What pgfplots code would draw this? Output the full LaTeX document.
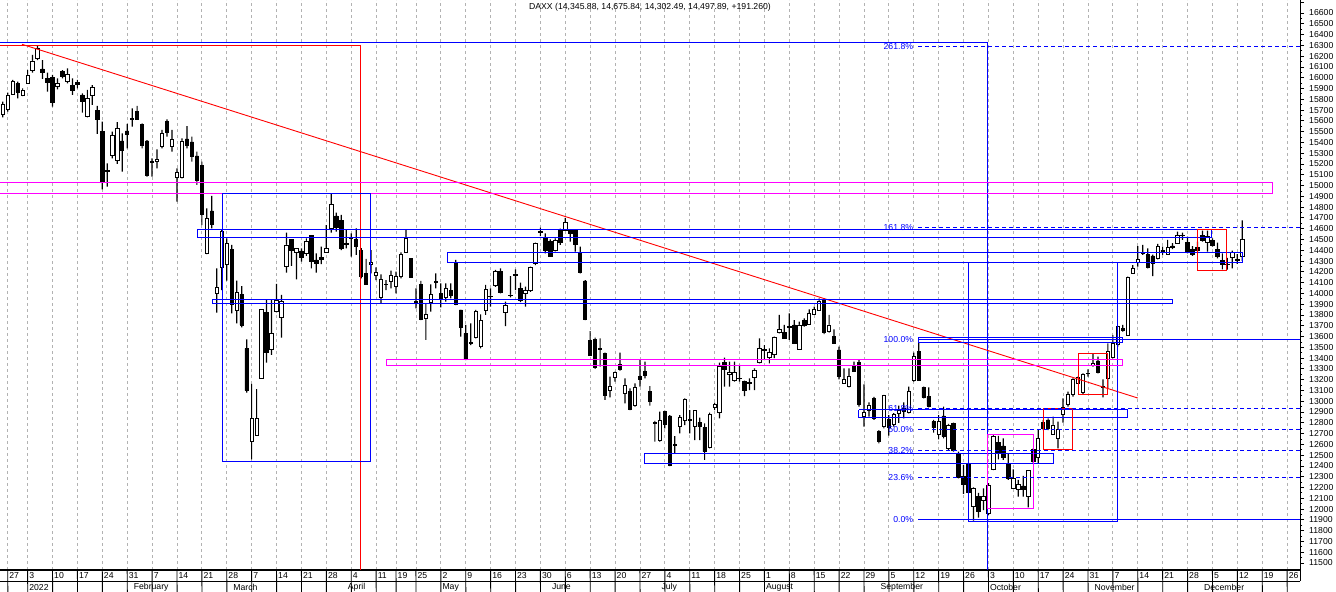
\documentclass[border=0pt]{standalone}
\usepackage{pgfplots}
\pgfplotsset{compat=1.18}
\usepackage{pgfplotstable}
\usepackage{fontspec}
\setmainfont{Liberation Sans}
\newcommand\tf{\fontsize{8.7}{10}\selectfont}
\definecolor{mag}{RGB}{255,0,255}
\definecolor{bl}{RGB}{0,0,255}
\definecolor{rd}{RGB}{255,0,0}

\pgfplotstableread{
i o h l c
-1 15660 15778 15632 15756
0 15706 15861 15685 15840
1 15846 15979 15840 15969
2 15948 15963 15809 15864
3 15836 15900 15830 15886
4 15948 16071 15948 16025
5 16065 16211 16047 16155
6 16180 16303 16164 16272
7 16081 16164 15990 16053
8 15994 16047 15871 15954
9 16003 16025 15731 15769
10 15923 15994 15892 15948
11 16056 16071 15994 16010
12 15963 16087 15948 16031
13 15932 15994 15840 15880
14 15954 15979 15901 15938
15 15840 15855 15676 15778
16 15639 15886 15632 15809
17 15837 15932 15747 15911
18 15694 15738 15478 15614
19 15500 15592 14965 15036
20 15140 15206 14990 15130
21 15277 15500 15252 15463
22 15231 15589 15200 15531
23 15413 15484 15129 15323
24 15506 15571 15345 15472
25 15612 15716 15546 15619
26 15691 15738 15608 15614
27 15568 15577 15345 15370
28 15413 15422 15082 15098
29 15215 15252 15082 15221
30 15227 15336 15160 15246
31 15361 15515 15345 15484
32 15598 15614 15453 15493
33 15367 15515 15314 15428
34 15076 15160 14850 15120
35 15076 15438 15067 15413
36 15432 15552 15345 15376
37 15404 15453 15221 15268
38 15274 15314 15005 15045
39 15190 15221 14634 14733
40 14371 14789 14365 14696
41 14764 14903 14603 14640
42 14000 14232 13821 14056
43 14242 14588 14031 14572
44 14269 14510 14118 14464
45 14408 14449 13815 13902
46 13846 14118 13722 14006
47 13994 14068 13685 13707
48 13490 13574 13080 13098
49 12625 13160 12461 12842
50 12687 13113 12687 12841
51 13212 13852 13212 13852
52 13824 13939 13357 13450
53 13481 13939 13429 13630
54 13830 14087 13824 13939
55 13778 13985 13589 13929
56 14254 14563 14192 14449
57 14501 14501 14254 14402
58 14381 14418 14130 14418
59 14393 14418 14294 14331
60 14371 14510 14347 14486
61 14541 14541 14232 14294
62 14310 14371 14192 14279
63 14334 14433 14272 14316
64 14381 14634 14381 14418
65 14603 14922 14563 14826
66 14718 14748 14572 14609
67 14680 14727 14402 14418
68 14455 14588 14418 14460
69 14510 14557 14340 14520
70 14501 14603 14356 14433
71 14402 14420 14140 14155
72 14186 14319 14078 14084
73 14270 14402 14186 14284
74 14170 14242 14124 14192
75 13963 14177 13902 14130
76 14080 14124 14031 14084
77 14109 14211 14047 14164
78 14068 14201 14000 14155
79 14155 14380 14140 14365
80 14381 14594 14378 14510
81 14325 14325 14146 14146
82 13920 14047 13861 13923
83 14084 14115 13753 13759
84 13768 13908 13568 13805
85 13917 14084 13830 13991
86 14105 14186 14047 14109
87 14000 14093 13871 13948
88 13963 14093 13923 14047
89 14031 14093 13954 13979
90 14279 14310 13892 13902
91 13846 13846 13599 13685
92 13630 13707 13382 13388
93 13540 13722 13521 13549
94 13592 13846 13583 13837
95 13512 13806 13491 13753
96 13840 14078 13800 14038
97 13970 14047 13877 13976
98 14072 14217 14060 14201
99 14201 14232 14000 14010
100 13821 13923 13697 13886
101 13980 14161 13963 13985
102 14170 14223 14031 14180
103 14047 14100 13920 13932
104 14000 14062 13877 14030
105 14025 14248 14015 14238
106 14279 14470 14263 14464
107 14570 14610 14530 14578
108 14520 14557 14371 14396
109 14480 14500 14340 14347
110 14396 14510 14390 14495
111 14588 14600 14450 14470
112 14588 14700 14580 14656
113 14580 14594 14480 14560
114 14588 14594 14387 14458
115 14371 14433 14186 14195
116 14115 14124 13753 13762
117 13561 13651 13420 13429
118 13574 13590 13300 13314
119 13480 13583 13320 13490
120 13444 13450 13012 13052
121 13104 13228 13036 13141
122 13221 13274 13181 13265
123 13345 13450 13284 13296
124 13073 13212 12980 13150
125 13089 13120 12918 12925
126 12959 13166 12950 13129
127 13228 13382 13135 13203
128 13274 13367 13212 13237
129 13089 13141 12959 13002
130 12795 12817 12625 12804
131 12634 12903 12625 12820
132 12903 12912 12748 12786
133 12863 12872 12399 12408
134 12590 12677 12517 12600
135 12770 12872 12702 12850
136 12826 13027 12779 13021
137 12835 12918 12702 12820
138 12764 12918 12640 12912
139 12804 12847 12640 12764
140 12758 12795 12455 12532
141 12569 12894 12563 12881
142 12940 12987 12918 12971
143 12894 13357 12841 13320
144 13357 13404 13135 13299
145 13250 13367 13135 13270
146 13191 13367 13181 13265
147 13215 13336 13181 13212
148 13184 13191 13048 13098
149 13165 13212 13104 13172
150 13221 13305 13104 13290
151 13361 13583 13351 13490
152 13470 13520 13380 13479
153 13410 13490 13350 13449
154 13430 13600 13400 13593
155 13639 13800 13630 13667
156 13639 13707 13577 13583
157 13680 13815 13568 13690
158 13707 13753 13531 13537
159 13484 13738 13475 13707
160 13753 13769 13691 13707
161 13716 13852 13707 13815
162 13806 13877 13800 13852
163 13846 13954 13840 13923
164 13945 13954 13623 13640
165 13645 13800 13636 13707
166 13599 13667 13531 13537
167 13475 13506 13203 13234
168 13166 13305 13160 13203
169 13135 13305 13129 13228
170 13330 13367 13274 13280
171 13358 13382 12949 12974
172 12857 13157 12764 12894
173 12919 12990 12857 12965
174 13027 13040 12826 12841
175 12718 12733 12610 12625
176 12764 13060 12749 13058
177 12832 12870 12680 12761
178 12789 12890 12765 12879
179 12890 12960 12800 12916
180 12930 12990 12840 12904
181 12897 13135 12888 13088
182 13191 13450 13181 13413
183 13460 13543 13191 13197
184 13129 13135 13027 13036
185 13048 13129 12943 12956
186 12810 12826 12709 12755
187 12693 12872 12647 12810
188 12863 12950 12656 12671
189 12563 12789 12548 12780
190 12795 12801 12532 12542
191 12517 12532 12285 12291
192 12300 12410 12140 12228
193 12424 12430 12146 12152
194 12028 12201 11892 12192
195 12120 12150 11920 11976
196 12078 12192 11991 12121
197 11960 12240 11945 12223
198 12368 12687 12360 12678
199 12616 12678 12461 12517
200 12585 12656 12455 12480
201 12418 12511 12270 12285
202 12192 12368 12190 12285
203 12183 12270 12115 12232
204 12214 12307 12115 12183
205 12121 12362 12016 12356
206 12554 12563 12424 12440
207 12480 12733 12418 12656
208 12801 12826 12733 12749
209 12826 12841 12733 12749
210 12693 12857 12687 12780
211 12656 12810 12563 12739
212 12878 13027 12801 12940
213 12971 13089 12950 13064
214 13064 13212 13042 13203
215 13166 13228 13160 13218
216 13079 13259 13067 13249
217 13255 13296 13228 13262
218 13330 13444 13320 13350
219 13373 13413 13259 13265
220 13140 13203 13036 13130
221 13212 13537 13120 13460
222 13407 13614 13398 13537
223 13531 13698 13506 13691
224 13676 13707 13645 13661
225 13614 14155 13605 14149
226 14186 14263 14180 14232
227 14291 14439 14248 14316
228 14370 14449 14356 14381
229 14365 14418 14232 14242
230 14347 14360 14161 14279
231 14325 14458 14316 14433
232 14400 14433 14356 14385
233 14365 14495 14356 14427
234 14440 14465 14410 14428
235 14464 14572 14458 14541
236 14535 14563 14495 14541
237 14473 14526 14371 14387
238 14408 14439 14347 14365
239 14427 14480 14387 14396
240 14541 14582 14480 14495
241 14470 14582 14387 14532
242 14489 14510 14433 14449
243 14408 14470 14325 14347
244 14303 14371 14223 14272
245 14270 14330 14220 14265
246 14334 14396 14232 14378
247 14315 14365 14273 14306
248 14345.88 14675.84 14302.49 14497.89
}\candles

\begin{document}
\begin{tikzpicture}
\pgfplotsset{base/.style={scale only axis, width=1300bp, height=570bp,
  xmin=-1.547, xmax=259.6, ymin=11435, ymax=16720.5, enlargelimits=false,
  at={(0,0)}, anchor=south west}}

% main axis: grid, axes, wicks
\begin{axis}[base, ybar stacked, bar width=1.2bp,
  axis x line*=bottom, axis y line*=right,
  x axis line style={line width=1.6bp, black},
  y axis line style={line width=0.8bp, black},
  xtick={0,4,9,14,19,24,29,34,39,44,49,54,59,64,69,74,78,82,87,92,97,102,107,112,117,122,127,132,137,142,147,152,157,162,167,172,177,182,187,192,197,202,207,212,217,222,227,232,237,242,247,252,257},
  xticklabels={}, xtick style={draw=none},
  xmajorgrids, major grid style={black!30, line width=0.8bp, dash pattern=on 3bp off 3bp},
  ytick={11500,11600,...,16600}, extra y ticks={16700}, extra y tick labels={},
  scaled y ticks=false,
  minor y tick num=1, tick align=outside, major tick length=4bp, minor tick length=2.3bp,
  ytick style={black, line width=0.8bp}, minor y tick style={black, line width=0.8bp},
  yticklabel style={font=\tf, anchor=west, inner sep=0pt, xshift=5bp,
    /pgf/number format/fixed, /pgf/number format/precision=0},
  /pgf/number format/1000 sep={}, /pgf/number format/assume math mode=true]
\addplot [draw=none, fill=none] table [x=i, y=l] {\candles};
\addplot [draw=none, fill=black] table [x=i, y expr=\thisrow{h}-\thisrow{l}] {\candles};
\end{axis}

% candle bodies
\begin{axis}[base, hide axis, ybar stacked, bar width=3.4bp]
\addplot [draw=none, fill=none] table [x=i, y expr={min(\thisrow{o},\thisrow{c})}] {\candles};
\addplot [draw=black, fill=white, line width=0.8bp] table [x=i, y expr={max(\thisrow{c}-\thisrow{o},0)}] {\candles};
\addplot [draw=black, fill=black, line width=0.8bp] table [x=i, y expr={max(\thisrow{o}-\thisrow{c},0)}] {\candles};
\end{axis}

% drawings, labels
\begin{axis}[base, hide axis, clip=false]
\addplot [bl, line width=1bp, mark=none] coordinates {(-1.547,16328) (196.9,16328) (196.9,11435)};
\addplot [rd, line width=1bp, mark=none] coordinates {(-1.547,16300) (70.77,16300) (70.77,11435)};
\addplot [rd, line width=0.9bp, mark=none] coordinates {(2.87,16310) (227.0,13030)};
\addplot [mag, line width=1bp, mark=none] coordinates {(-1.547,15033) (253.98,15033) (253.98,14931) (-1.547,14931)};
\addplot [bl, line width=1bp, mark=none] coordinates {(43.05,14931) (72.78,14931) (72.78,12446) (43.05,12446) (43.05,14931)};
\addplot [bl, line width=1bp, mark=none] coordinates {(38.03,14588) (241.9,14588) (241.9,14523) (38.03,14523) (38.03,14588)};
\addplot [bl, line width=1bp, mark=none] coordinates {(88.25,14375) (247.95,14375) (247.95,14282) (88.25,14282) (88.25,14375)};
\addplot [bl, line width=1bp, mark=none] coordinates {(193.1,14290) (223.0,14290) (223.0,11889) (193.1,11889) (193.1,14290)};
\addplot [bl, line width=1bp, mark=none] coordinates {(41.04,13948) (233.9,13948) (233.9,13902) (41.04,13902) (41.04,13948)};
\addplot [mag, line width=1bp, mark=none] coordinates {(76.0,13391) (223.85,13391) (223.85,13327) (76.0,13327) (76.0,13391)};
\addplot [bl, line width=1bp, mark=none] coordinates {(182.9,13595) (223.85,13595) (223.85,13549) (182.9,13549) (182.9,13595)};
\addplot [bl, line width=1bp, mark=none] coordinates {(171.0,12919) (224.85,12919) (224.85,12854) (171.0,12854) (171.0,12919)};
\addplot [bl, line width=1bp, mark=none] coordinates {(128.0,12520) (210.0,12520) (210.0,12427) (128.0,12427) (128.0,12520)};
\addplot [mag, line width=1bp, mark=none] coordinates {(196.9,12696) (205.96,12696) (205.96,12010) (196.9,12010) (196.9,12696)};
\addplot [rd, line width=1bp, mark=none] coordinates {(207.97,12937) (213.8,12937) (213.8,12557) (207.97,12557) (207.97,12937)};
\addplot [rd, line width=1bp, mark=none] coordinates {(215.0,13447) (221.0,13447) (221.0,13067) (215.0,13067) (215.0,13447)};
\addplot [rd, line width=1bp, mark=none] coordinates {(239.1,14597) (244.9,14597) (244.9,14208) (239.1,14208) (239.1,14597)};
% Fibonacci levels
\addplot [bl, line width=1bp, mark=none] coordinates {(182.9,11899) (259.6,11899)};
\addplot [bl, line width=1bp, mark=none] coordinates {(182.9,13577) (259.6,13577)};
\addplot [bl, line width=1bp, mark=none, dash pattern=on 4bp off 3bp] coordinates {(182.9,12295) (259.6,12295)};
\addplot [bl, line width=1bp, mark=none, dash pattern=on 4bp off 3bp] coordinates {(182.9,12540) (259.6,12540)};
\addplot [bl, line width=1bp, mark=none, dash pattern=on 4bp off 3bp] coordinates {(182.9,12738) (259.6,12738)};
\addplot [bl, line width=1bp, mark=none, dash pattern=on 4bp off 3bp] coordinates {(182.9,12936) (259.6,12936)};
\addplot [bl, line width=1bp, mark=none, dash pattern=on 4bp off 3bp] coordinates {(182.9,14614) (259.6,14614)};
\addplot [bl, line width=1bp, mark=none, dash pattern=on 4bp off 3bp] coordinates {(182.9,16292) (259.6,16292)};
\foreach \v/\t in {11899/0.0,12295/23.6,12540/38.2,12738/50.0,12936/61.8,13577/100.0,14614/161.8,16292/261.8} {
  \edef\tmp{\noexpand\node[font=\noexpand\tf, text=bl, anchor=east, inner sep=0pt] at (axis cs:181.9,\v) {\t\noexpand\%};}\tmp}
% title
\node[font=\tf, yshift=-7bp] at (rel axis cs:0.5,1) {DAXX (14,345.88, 14,675.84, 14,302.49, 14,497.89, +191.260)};
% date row
\draw[line width=0.9bp] ([yshift=-11bp]rel axis cs:0,0) -- ([yshift=-11bp]rel axis cs:1,0);
\draw[line width=0.9bp] (rel axis cs:1,0) -- ([yshift=-11bp]rel axis cs:1,0);
\foreach \x/\l in {0/27,4/3,9/10,14/17,19/24,24/31,29/7,34/14,39/21,44/28,49/7,54/14,59/21,64/28,69/4,74/11,78/19,82/25,87/2,92/9,97/16,102/23,107/30,112/6,117/13,122/20,127/27,132/4,137/11,142/18,147/25,152/1,157/8,162/15,167/22,172/29,177/5,182/12,187/19,192/26,197/3,202/10,207/17,212/24,217/31,222/7,227/14,232/21,237/28,242/5,247/12,252/19,257/26} {
  \edef\tmp{\noexpand\draw[line width=0.9bp] (axis cs:\x,11435) -- ++(0,-11bp);
    \noexpand\node[font=\noexpand\tf, anchor=west, inner sep=0pt, xshift=1.5bp, yshift=-5.5bp] at (axis cs:\x,11435) {\l};}\tmp}
% month row
\foreach \x/\l in {4/2022,25/February,45/March,68/April,87/May,109/June,131/July,152/August,175/September,197/October,218/November,240/December} {
  \edef\tmp{\noexpand\draw[line width=0.9bp] (axis cs:\x,11435) ++(0,-11bp) -- ++(0,-11bp);
    \noexpand\node[font=\noexpand\tf, anchor=west, inner sep=0pt, xshift=1.5bp, yshift=-17bp] at (axis cs:\x,11435) {\l};}\tmp}
\end{axis}
\pgfresetboundingbox
\useasboundingbox (0,-22bp) rectangle (1336bp,570bp);
\end{tikzpicture}
\end{document}
